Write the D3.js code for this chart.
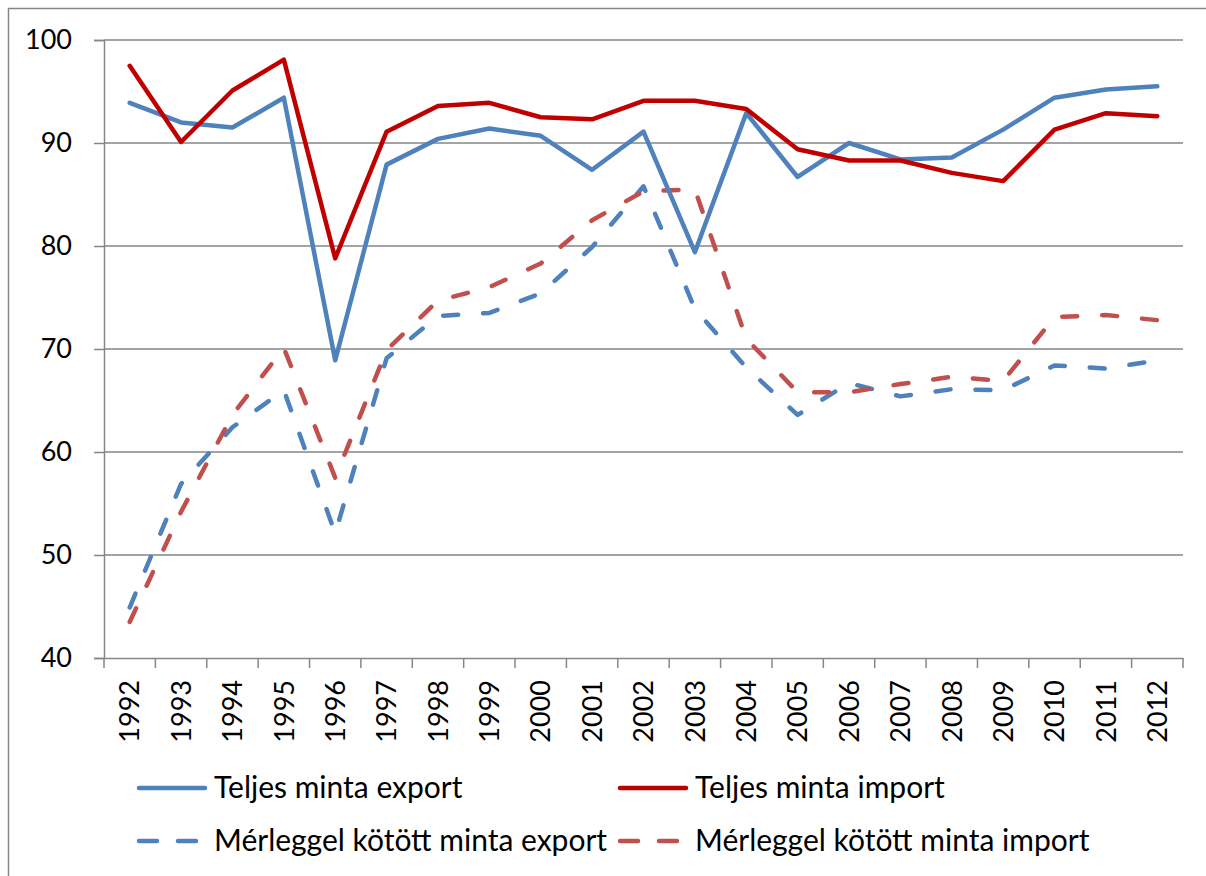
<!DOCTYPE html>
<html>
<head>
<meta charset="utf-8">
<script src="https://cdn.jsdelivr.net/npm/d3@7"></script>
<style>
        body { margin: 0; background: #fff; }
        svg { display: block; }
        text { font-family: Lato, "Liberation Sans", sans-serif; fill: #000; }
</style>
</head>
<body>
<script>
years = [1992, 1993, 1994, 1995, 1996, 1997, 1998, 1999, 2000, 2001, 2002,
        2003, 2004, 2005, 2006, 2007, 2008, 2009, 2010, 2011, 2012]
exportFull = [93.9, 92.0, 91.5, 94.4, 68.9, 87.9, 90.4, 91.4, 90.7, 87.4, 91.1,
        79.4, 92.9, 86.7, 90.0, 88.4, 88.6, 91.3, 94.4, 95.2, 95.5]
importFull = [97.5, 90.1, 95.1, 98.1, 78.8, 91.1, 93.6, 93.9, 92.5, 92.3, 94.1,
        94.1, 93.3, 89.4, 88.3, 88.3, 87.1, 86.3, 91.3, 92.9, 92.6]
exportBal = [44.9, 56.9, 62.4, 66.0, 52.1, 69.1, 73.2, 73.5, 75.4, 79.9, 85.8,
        73.9, 68.2, 63.6, 66.7, 65.4, 66.1, 66.0, 68.4, 68.1, 68.9]
importBal = [43.5, 54.2, 63.6, 70.1, 57.5, 69.9, 74.7, 76.0, 78.3, 82.5, 85.3,
        85.5, 71.0, 65.8, 65.8, 66.6, 67.3, 66.9, 73.1, 73.3, 72.8]
yTicks = [40, 50, 60, 70, 80, 90, 100]

seriesNames = ["Teljes minta export", "Teljes minta import",
        "Mérleggel kötött minta export", "Mérleggel kötött minta import"]
seriesColors = ["#4F81BD", "#C00000", "#4F81BD", "#C0504D"]
seriesDashed = [false, false, true, true]
seriesValues = [exportFull, importFull, exportBal, importBal]

W = 1206
H = 876
gridColor = "#868686"
dash = "15,25"

svg = d3.select("body").append("svg")
        .attr("width", W)
        .attr("height", H)

// outer frame
svg.append("rect")
        .attr("x", 8.5).attr("y", 8.5)
        .attr("width", W).attr("height", H)
        .attr("fill", "none")
        .attr("stroke", gridColor)
        .attr("stroke-width", 1.5)

x = d3.scaleBand().domain(years).range([104, 1183]).padding(0)
y = d3.scaleLinear().domain([40, 100]).range([658, 40])

// gridlines
svg.append("g").selectAll("line").data(yTicks.slice(1))
        .enter().append("line")
        .attr("x1", 104).attr("x2", 1183)
        .attr("y1", function(d) { return y(d) })
        .attr("y2", function(d) { return y(d) })
        .attr("stroke", gridColor)
        .attr("stroke-width", 1.5)

// y axis
yAxis = svg.append("g")
        .attr("transform", "translate(104,0)")
        .call(d3.axisLeft(y).tickValues(yTicks).tickSize(10).tickPadding(22))
yAxis.select(".domain").attr("stroke", gridColor).attr("stroke-width", 1.5)
yAxis.selectAll(".tick line").attr("stroke", gridColor).attr("stroke-width", 1.5)
yAxis.selectAll(".tick text")
        .attr("font-size", 27)
        .style("font-family", "Lato, sans-serif")

// x axis
xAxis = svg.append("g")
        .attr("transform", "translate(0,658)")
        .call(d3.axisBottom(x).tickSize(0).tickSizeOuter(0))
xAxis.select(".domain").attr("stroke", gridColor).attr("stroke-width", 1.5)
xAxis.selectAll(".tick text")
        .attr("font-size", 27)
        .style("font-family", "Lato, sans-serif")
        .attr("text-anchor", "end")
        .attr("transform", "rotate(-90)")
        .attr("x", -22)
        .attr("y", 0)
        .attr("dy", "0.36em")

// x ticks on band edges
edges = years.map(function(d) { return x(d) }).concat([x.range()[1]])
svg.append("g").selectAll("line").data(edges)
        .enter().append("line")
        .attr("x1", function(d) { return d }).attr("x2", function(d) { return d })
        .attr("y1", 658).attr("y2", 668)
        .attr("stroke", gridColor)
        .attr("stroke-width", 1.5)

line = d3.line()
        .x(function(d, i) { return x(years[i]) + x.bandwidth() / 2 })
        .y(function(d) { return y(d) })

order = [2, 3, 0, 1]
svg.append("g").selectAll("path").data(order)
        .enter().append("path")
        .attr("d", function(k) { return line(seriesValues[k]) })
        .attr("fill", "none")
        .attr("stroke", function(k) { return seriesColors[k] })
        .attr("stroke-width", 4.5)
        .attr("stroke-linejoin", "round")
        .attr("stroke-linecap", "round")
        .attr("stroke-dasharray", function(k) { return seriesDashed[k] ? dash : null })

// legend
legendX = [139, 620]
legendY = [788, 841]
legend = svg.append("g").selectAll("g").data(seriesNames)
        .enter().append("g")
        .attr("transform", function(d, i) {
                return "translate(" + legendX[i % 2] + "," + legendY[Math.floor(i / 2)] + ")"
        })
legend.append("line")
        .attr("x1", 0).attr("x2", 66)
        .attr("y1", 0).attr("y2", 0)
        .attr("stroke", function(d, i) { return seriesColors[i] })
        .attr("stroke-width", 4.5)
        .attr("stroke-linecap", "round")
        .attr("stroke-dasharray", function(d, i) { return seriesDashed[i] ? "18,21" : null })
legend.append("text")
        .attr("x", 75)
        .attr("y", 10)
        .attr("font-size", 30)
        .text(function(d) { return d })
</script>
</body>
</html>
